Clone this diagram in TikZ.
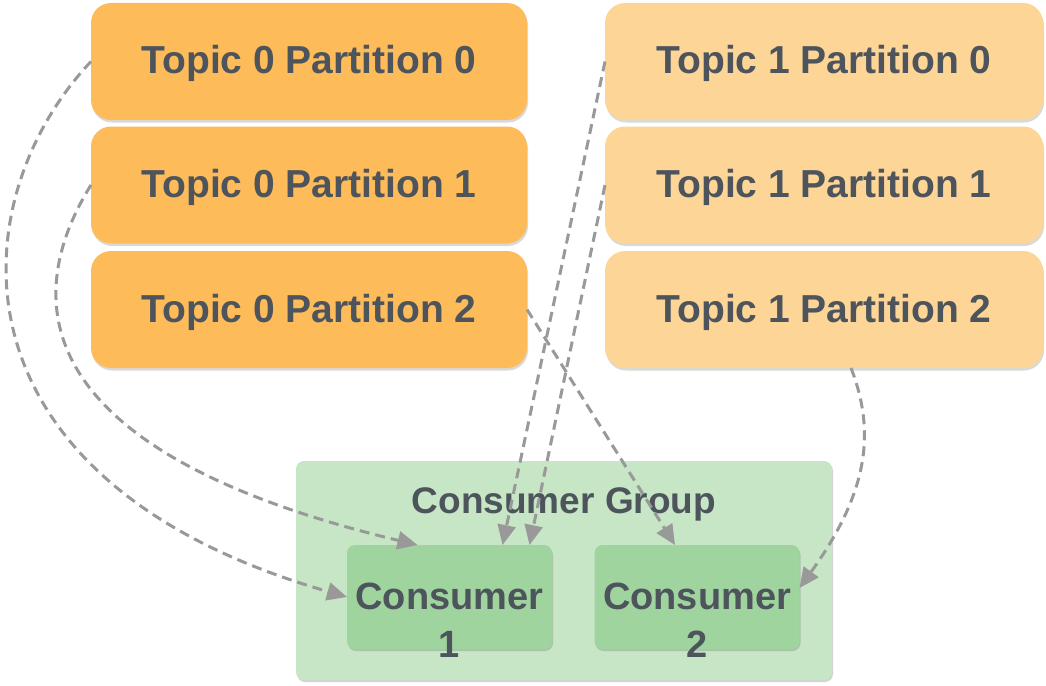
\documentclass[tikz,border=0pt]{standalone}
\usepackage{fontspec}
\setmainfont{Liberation Sans}
\usepackage{tikz}
\usetikzlibrary{arrows.meta, shadows}

\definecolor{txtgray}{HTML}{4D545C}
\definecolor{topicA}{HTML}{FDBB5A}
\definecolor{topicB}{HTML}{FDD597}
\definecolor{grpgreen}{HTML}{C6E6C6}
\definecolor{consgreen}{HTML}{9FD49F}
\definecolor{linkgray}{HTML}{999999}

\begin{document}
\begin{tikzpicture}[x=1pt, y=-1pt,
    box/.style={rounded corners=20pt, inner sep=0pt, outer sep=0pt, text=txtgray,
        font=\fontsize{39}{44}\selectfont\bfseries, text height=28pt, text depth=3pt,
        drop shadow={shadow xshift=1pt, shadow yshift=-2.5pt, opacity=0.3}},
    topicA/.style={box, fill=topicA, minimum width=436pt, minimum height=117pt},
    topicB/.style={box, fill=topicB, minimum width=438pt, minimum height=117pt},
    consumer/.style={rounded corners=8pt, fill=consgreen, inner sep=0pt, outer sep=0pt,
        minimum width=205pt, minimum height=104pt,
        drop shadow={shadow xshift=1pt, shadow yshift=-2pt, opacity=0.35}},
    constext/.style={align=center, text=txtgray, inner sep=0pt,
        font=\fontsize{38}{48}\selectfont\bfseries, text height=126pt, text depth=6pt},
    link/.style={draw=linkgray, line width=3pt, dash pattern=on 10pt off 6pt,
        -{Triangle[length=20pt, width=18pt]}}]
    \useasboundingbox (0,0) rectangle (1046,685);

    % topics
    \node[topicA] (t0p0) at (309,61.5) {Topic 0 Partition 0};
    \node[topicA] (t0p1) at (309,185) {Topic 0 Partition 1};
    \node[topicA] (t0p2) at (309,309.5) {Topic 0 Partition 2};
    \node[topicB] (t1p0) at (824,61.5) {Topic 1 Partition 0};
    \node[topicB] (t1p1) at (824,185) {Topic 1 Partition 1};
    \node[topicB] (t1p2) at (824,309.5) {Topic 1 Partition 2};

    % consumer group
    \node[rounded corners=8pt, fill=grpgreen, minimum width=536pt, minimum height=219pt,
        inner sep=0pt, outer sep=0pt,
        drop shadow={shadow xshift=1pt, shadow yshift=-2pt, opacity=0.35}] (grp) at (564,570.5) {};
    \node[anchor=base, text=txtgray, font=\fontsize{37}{44}\selectfont\bfseries] (grplbl) at (564,513) {Consumer Group};
    \node[consumer] (c1) at (449.5,597) {};
    \node[consumer] (c2) at (697,597) {};
    \node[constext] (c1lbl) at (c1) {Consumer\\1};
    \node[constext] (c2lbl) at (c2) {Consumer\\2};

    % assignments
    \draw[link] (t0p0.west) .. controls (-40,200) and (-60,480) .. (c1.west);
    \draw[link] (t0p1.west) .. controls (32,280) and (0,445) .. ([xshift=-32pt]c1.north);
    \draw[link] (t1p0.west) -- ([xshift=53pt]c1.north);
    \draw[link] (t1p1.west) -- ([xshift=80pt]c1.north);
    \draw[link] (t0p2.east) -- ([xshift=-22pt]c2.north);
    \draw[link] ([xshift=27pt]t1p2.south) .. controls (875,430) and (870,490) .. ([yshift=9pt]c2.east);
\end{tikzpicture}
\end{document}
